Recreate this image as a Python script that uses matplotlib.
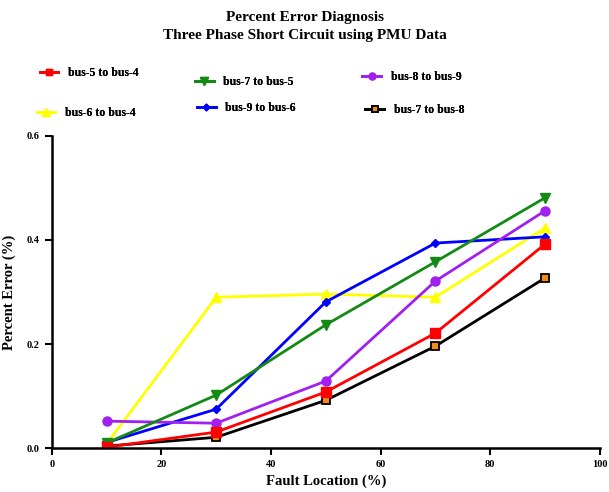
import matplotlib.pyplot as plt

# Fault location (%) and percent error for each line
fault_location = [10, 30, 50, 70, 90]
bus_7_to_8 = [0.004, 0.021, 0.092, 0.196, 0.327]
bus_6_to_4 = [0.008, 0.290, 0.296, 0.290, 0.423]
bus_9_to_6 = [0.011, 0.075, 0.281, 0.394, 0.406]
bus_8_to_9 = [0.052, 0.048, 0.129, 0.321, 0.456]
bus_7_to_5 = [0.010, 0.102, 0.237, 0.358, 0.481]
bus_5_to_4 = [0.002, 0.031, 0.108, 0.221, 0.392]

x_ticks = [0, 20, 40, 60, 80, 100]
y_ticks = [0.0, 0.2, 0.4, 0.6]

plt.rcParams['font.family'] = ['Liberation Serif', 'DejaVu Serif']
plt.rcParams['font.weight'] = 'bold'

fig = plt.figure(figsize=(6.09, 4.92), dpi=100)
ax = fig.add_axes([0.085, 0.089, 0.9, 0.635])

lines = {}
lines['bus-7 to bus-8'] = ax.plot(fault_location, bus_7_to_8, color='black', lw=2,
                                  marker='s', ms=6, mfc='#f28c1c', mec='black', mew=1.3)[0]
lines['bus-6 to bus-4'] = ax.plot(fault_location, bus_6_to_4, color='#ffff00', lw=2,
                                  marker='^', ms=7)[0]
lines['bus-9 to bus-6'] = ax.plot(fault_location, bus_9_to_6, color='#0000ff', lw=2,
                                  marker='D', ms=4.5)[0]
lines['bus-8 to bus-9'] = ax.plot(fault_location, bus_8_to_9, color='#a020f0', lw=2,
                                  marker='o', ms=6.5)[0]
lines['bus-7 to bus-5'] = ax.plot(fault_location, bus_7_to_5, color='#138a13', lw=2,
                                  marker='v', ms=7)[0]
lines['bus-5 to bus-4'] = ax.plot(fault_location, bus_5_to_4, color='#ff0000', lw=2,
                                  marker='s', ms=6.5)[0]

ax.set_xlim(0, 100)
ax.set_ylim(0, 0.6)
ax.set_xticks(x_ticks)
ax.set_xticklabels([str(t) for t in x_ticks])
ax.set_yticks(y_ticks)
ax.set_yticklabels([f'{t:.1f}' for t in y_ticks])
ax.tick_params(direction='out', length=5, width=1.5, labelsize=7.5)
for side in ['top', 'right']:
    ax.spines[side].set_visible(False)
for side in ['left', 'bottom']:
    ax.spines[side].set_linewidth(1.8)

ax.set_xlabel('Fault Location (%)', fontsize=10.5, fontweight='bold', labelpad=4)
ax.set_ylabel('Percent Error (%)', fontsize=10.5, fontweight='bold', labelpad=8)

fig.text(0.5, 0.965, 'Percent Error Diagnosis', ha='center', va='center',
         fontsize=11, fontweight='bold')
fig.text(0.5, 0.928, 'Three Phase Short Circuit using PMU Data', ha='center',
         va='center', fontsize=11, fontweight='bold')

# individual legend entries placed like the original
legend_pos = {
    'bus-5 to bus-4': (0.065, 0.852),
    'bus-7 to bus-5': (0.32, 0.834),
    'bus-8 to bus-9': (0.595, 0.843),
    'bus-6 to bus-4': (0.06, 0.77),
    'bus-9 to bus-6': (0.323, 0.78),
    'bus-7 to bus-8': (0.6, 0.776),
}
for name, (lx, ly) in legend_pos.items():
    leg = fig.legend([lines[name]], [name], loc='center left', bbox_to_anchor=(lx, ly),
                     frameon=False, fontsize=8.5, handlelength=1.6, handletextpad=0.8,
                     borderaxespad=0, borderpad=0, markerscale=0.75)
    fig.add_artist(leg)

fig.savefig('out.png', dpi=100)
